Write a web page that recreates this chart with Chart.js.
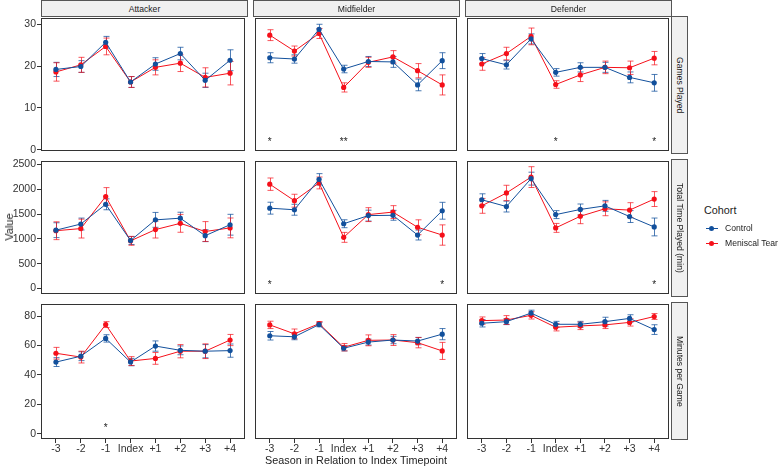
<!DOCTYPE html>
<html>
<head>
<meta charset="utf-8">
<script src="https://cdn.jsdelivr.net/npm/chart.js@4.4.0/dist/chart.umd.min.js"></script>
<style>
body { margin: 0; background: #fff; font-family: "Liberation Sans", Arial, sans-serif; }
#wrap { position: relative; width: 780px; height: 467px; overflow: hidden; }
#wrap canvas { position: absolute; }
.strip { position: absolute; background: #f0f0f0; border: 1px solid #555; box-sizing: border-box;
  font-size: 8.6px; color: #1a1a1a; display: flex; align-items: center; justify-content: center; }
.vstrip span { writing-mode: vertical-rl; }
.lbl { position: absolute; color: #222; white-space: nowrap; }
.key { position: absolute; width: 12px; height: 1px; }
.key i { position: absolute; left: 3px; top: -2px; width: 5px; height: 5px; border-radius: 50%; }
</style>
</head>
<body>
<div id="wrap"></div>
<script>
// ---- data ----
const seasons = ['-3', '-2', '-1', 'Index', '+1', '+2', '+3', '+4'];
const positions = ['Attacker', 'Midfielder', 'Defender'];
const measures = ['Games Played', 'Total Time Played (min)', 'Minutes per Game'];
const cohorts = ['Control', 'Meniscal Tear'];

// Games played
const attGpCtl = [19.2, 19.9, 25.7, 16.2, 20.5, 23.0, 16.6, 21.4];
const attGpCtlSe = [1.7, 1.4, 1.4, 1.3, 1.5, 1.5, 1.7, 2.5];
const attGpMt = [18.6, 20.3, 24.7, 16.2, 19.7, 20.7, 17.3, 18.3];
const attGpMtSe = [2.2, 1.8, 2.0, 1.3, 1.8, 2.0, 2.3, 2.8];
const midGpCtl = [22.0, 21.7, 28.8, 19.3, 21.1, 21.0, 15.5, 21.3];
const midGpCtlSe = [1.2, 1.0, 1.2, 0.9, 1.2, 1.3, 1.4, 1.9];
const midGpMt = [27.4, 23.6, 27.8, 14.9, 20.9, 22.2, 18.9, 15.5];
const midGpMtSe = [1.3, 1.2, 1.2, 1.1, 1.2, 1.5, 1.7, 2.4];
const defGpCtl = [21.8, 20.3, 26.5, 18.5, 19.7, 19.7, 17.3, 16.0];
const defGpCtlSe = [1.2, 1.0, 1.2, 0.9, 1.1, 1.2, 1.3, 2.0];
const defGpMt = [20.5, 23.0, 27.1, 15.6, 17.9, 19.7, 19.6, 21.9];
const defGpMtSe = [1.5, 1.5, 2.0, 0.9, 1.6, 1.5, 1.6, 1.6];

// Total time played (min)
const attTtCtl = [1176, 1300, 1698, 967, 1384, 1418, 1065, 1286];
const attTtCtlSe = [150, 120, 110, 80, 150, 120, 120, 210];
const attTtMt = [1165, 1208, 1855, 961, 1188, 1314, 1149, 1222];
const attTtMtSe = [180, 190, 180, 90, 170, 180, 200, 200];
const midTtCtl = [1620, 1588, 2202, 1306, 1470, 1476, 1078, 1568];
const midTtCtlSe = [120, 110, 115, 80, 110, 100, 100, 170];
const midTtMt = [2104, 1771, 2129, 1031, 1490, 1541, 1235, 1078];
const midTtMtSe = [125, 130, 120, 100, 140, 130, 150, 205];
const defTtCtl = [1790, 1653, 2216, 1490, 1594, 1667, 1451, 1241];
const defTtCtlSe = [120, 110, 130, 80, 110, 110, 120, 180];
const defTtMt = [1667, 1927, 2247, 1222, 1457, 1608, 1581, 1804];
const defTtMtSe = [150, 155, 210, 90, 150, 140, 150, 150];

// Minutes per game
const attMpgCtl = [48.7, 52.7, 64.8, 48.7, 59.6, 56.7, 56.1, 56.5];
const attMpgCtlSe = [3.0, 3.0, 2.5, 2.5, 3.5, 3.0, 4.5, 4.5];
const attMpgMt = [54.7, 52.1, 74.2, 49.4, 51.2, 56.1, 56.1, 63.7];
const attMpgMtSe = [4.0, 4.0, 2.0, 3.0, 4.0, 4.5, 5.0, 3.8];
const midMpgCtl = [66.6, 65.9, 74.2, 58.1, 62.3, 63.7, 63.0, 67.7];
const midMpgCtlSe = [2.9, 2.0, 1.5, 1.8, 2.0, 2.5, 2.5, 3.8];
const midMpgMt = [74.0, 67.9, 74.8, 58.8, 63.5, 63.7, 61.9, 56.3];
const midMpgMtSe = [2.5, 3.3, 1.5, 2.5, 3.7, 3.7, 3.5, 5.8];
const defMpgCtl = [75.1, 76.2, 82.0, 74.4, 74.4, 76.2, 78.4, 70.8];
const defMpgCtlSe = [2.5, 2.0, 2.0, 2.0, 2.0, 3.0, 2.5, 3.3];
const defMpgMt = [76.9, 77.3, 80.5, 72.4, 73.3, 74.0, 75.7, 79.7];
const defMpgMtSe = [2.5, 3.0, 2.5, 2.5, 2.5, 2.5, 2.5, 2.0];

// y ticks per row, axis limits per row
const yTicks = [[0, 10, 20, 30], [0, 500, 1000, 1500, 2000, 2500], [0, 20, 40, 60, 80]];
const yMin = [-0.3, -112, -3.6];
const yMax = [31.5, 2572, 88.2];

// significance markers: [row, col, season index, label]
const stars = [
  [0, 1, 0, '*'], [0, 1, 3, '**'], [0, 2, 3, '*'], [0, 2, 7, '*'],
  [1, 1, 0, '*'], [1, 1, 7, '*'], [1, 2, 7, '*'],
  [2, 0, 2, '*']
];
const starY = [1.8, 65, 3.4];

// grid of series [row][col] = [ctl, ctlSe, mt, mtSe]
const grid = [
  [[attGpCtl, attGpCtlSe, attGpMt, attGpMtSe], [midGpCtl, midGpCtlSe, midGpMt, midGpMtSe], [defGpCtl, defGpCtlSe, defGpMt, defGpMtSe]],
  [[attTtCtl, attTtCtlSe, attTtMt, attTtMtSe], [midTtCtl, midTtCtlSe, midTtMt, midTtMtSe], [defTtCtl, defTtCtlSe, defTtMt, defTtMtSe]],
  [[attMpgCtl, attMpgCtlSe, attMpgMt, attMpgMtSe], [midMpgCtl, midMpgCtlSe, midMpgMt, midMpgMtSe], [defMpgCtl, defMpgCtlSe, defMpgMt, defMpgMtSe]]
];

// ---- layout ----
const panelX = [41, 253, 465], panelW = 206;
const panelY = [16, 159, 302], panelH = 137;
const blue = '#12509c', red = '#f5101a';
const blueBar = 'rgba(18,80,156,0.75)', redBar = 'rgba(245,16,26,0.7)';
const wrap = document.getElementById('wrap');

Chart.defaults.font.family = '"Liberation Sans", Arial, sans-serif';
Chart.defaults.animation = false;

const errorBars = {
  id: 'errorBars',
  beforeDatasetsDraw(chart) {
    const {ctx, scales: {x, y}} = chart;
    chart.data.datasets.forEach(ds => {
      ctx.save();
      ctx.strokeStyle = ds.barColor;
      ctx.lineWidth = 1;
      ds.data.forEach((p, i) => {
        const px = Math.round(x.getPixelForValue(p.x)) + 0.5;
        const lo = y.getPixelForValue(p.y - ds.errors[i]);
        const hi = y.getPixelForValue(p.y + ds.errors[i]);
        ctx.beginPath();
        ctx.moveTo(px, lo); ctx.lineTo(px, hi);
        ctx.moveTo(px - 3, lo); ctx.lineTo(px + 3, lo);
        ctx.moveTo(px - 3, hi); ctx.lineTo(px + 3, hi);
        ctx.stroke();
      });
      ctx.restore();
    });
  }
};

const panelFrame = {
  id: 'panelFrame',
  afterDraw(chart) {
    const {ctx, chartArea: a} = chart;
    ctx.save();
    ctx.strokeStyle = '#333';
    ctx.lineWidth = 1;
    ctx.strokeRect(a.left + 0.5, a.top + 0.5, a.right - a.left - 1, a.bottom - a.top - 1);
    ctx.restore();
  }
};

function starPlugin(r, c) {
  return {
    id: 'stars' + r + c,
    afterDatasetsDraw(chart) {
      const {ctx, scales: {x, y}} = chart;
      ctx.save();
      ctx.fillStyle = '#222';
      ctx.font = '10px "Liberation Sans", Arial, sans-serif';
      ctx.textAlign = 'center';
      ctx.textBaseline = 'middle';
      stars.filter(s => s[0] === r && s[1] === c).forEach(s => {
        ctx.fillText(s[3], x.getPixelForValue(s[2]), y.getPixelForValue(starY[r]));
      });
      ctx.restore();
    }
  };
}

function toPoints(vals) {
  return vals.map((v, i) => ({x: i, y: v}));
}

function makePanel(r, c) {
  const left = c === 0 ? 0 : panelX[c] - 2;
  const top = panelY[r] - 2;
  const right = panelX[c] + panelW + 2;
  const bottom = r === 2 ? panelY[r] + panelH + 16 : panelY[r] + panelH + 2;
  const canvas = document.createElement('canvas');
  canvas.width = right - left;
  canvas.height = bottom - top;
  canvas.style.left = left + 'px';
  canvas.style.top = top + 'px';
  canvas.style.width = (right - left) + 'px';
  canvas.style.height = (bottom - top) + 'px';
  wrap.appendChild(canvas);

  const [ctl, ctlSe, mt, mtSe] = grid[r][c];
  const noPad = s => { s.paddingTop = 0; s.paddingBottom = 0; s.paddingLeft = 0; s.paddingRight = 0; };

  new Chart(canvas, {
    type: 'line',
    data: {
      datasets: [
        {label: cohorts[0], data: toPoints(ctl), errors: ctlSe, borderColor: blue, backgroundColor: blue,
         barColor: blueBar, borderWidth: 1, pointRadius: 2.6, pointBorderWidth: 0},
        {label: cohorts[1], data: toPoints(mt), errors: mtSe, borderColor: red, backgroundColor: red,
         barColor: redBar, borderWidth: 1, pointRadius: 2.6, pointBorderWidth: 0}
      ]
    },
    options: {
      responsive: false,
      devicePixelRatio: 1,
      layout: {padding: {left: c === 0 ? 0 : 2, right: 2, top: 2, bottom: r === 2 ? 0 : 2}},
      plugins: {legend: {display: false}, tooltip: {enabled: false}},
      scales: {
        x: {
          type: 'linear', min: -0.6, max: 7.6, display: r === 2,
          afterBuildTicks: s => { s.ticks = seasons.map((_, i) => ({value: i})); },
          afterFit: s => { if (r === 2) { s.height = 16; noPad(s); } },
          grid: {drawOnChartArea: false, drawTicks: true, tickLength: 4, color: '#333'},
          border: {display: false},
          ticks: {padding: 0, color: '#333', font: {size: 10.5}, maxRotation: 0, autoSkip: false,
                  callback: v => seasons[v]}
        },
        y: {
          type: 'linear', min: yMin[r], max: yMax[r], display: c === 0,
          afterBuildTicks: s => { s.ticks = yTicks[r].map(v => ({value: v})); },
          afterFit: s => { if (c === 0) { s.width = 41; noPad(s); } },
          grid: {drawOnChartArea: false, drawTicks: true, tickLength: 4, color: '#333'},
          border: {display: false},
          ticks: {padding: 1, color: '#333', font: {size: 10.5}, callback: v => String(v)}
        }
      }
    },
    plugins: [errorBars, panelFrame, starPlugin(r, c)]
  });
}

for (let r = 0; r < 3; r++) {
  for (let c = 0; c < 3; c++) makePanel(r, c);
}

// facet strips
positions.forEach((p, c) => {
  const d = document.createElement('div');
  d.className = 'strip';
  d.style.cssText = `left:${panelX[c]}px;top:0px;width:${panelW + 1}px;height:17px;`;
  d.textContent = p;
  wrap.appendChild(d);
});
measures.forEach((m, r) => {
  const d = document.createElement('div');
  d.className = 'strip vstrip';
  d.style.cssText = `left:${panelX[2] + panelW}px;top:${panelY[r]}px;width:17px;height:${panelH + 1}px;`;
  d.innerHTML = `<span>${m}</span>`;
  wrap.appendChild(d);
});

// axis titles
const yt = document.createElement('div');
yt.className = 'lbl';
yt.style.cssText = 'left:9px;top:227px;font-size:11px;transform:translate(-50%,-50%) rotate(-90deg);';
yt.textContent = 'Value';
wrap.appendChild(yt);
const xt = document.createElement('div');
xt.className = 'lbl';
xt.style.cssText = 'left:356px;top:460px;font-size:10.8px;transform:translate(-50%,-50%);';
xt.textContent = 'Season in Relation to Index Timepoint';
wrap.appendChild(xt);

// legend
const lt = document.createElement('div');
lt.className = 'lbl';
lt.style.cssText = 'left:704px;top:210px;font-size:10.8px;transform:translateY(-50%);';
lt.textContent = 'Cohort';
wrap.appendChild(lt);
[[cohorts[0], blue, 228], [cohorts[1], red, 243]].forEach(([name, col, yy]) => {
  const k = document.createElement('div');
  k.className = 'key';
  k.style.cssText = `left:706px;top:${yy}px;background:${col};`;
  k.innerHTML = `<i style="background:${col}"></i>`;
  wrap.appendChild(k);
  const t = document.createElement('div');
  t.className = 'lbl';
  t.style.cssText = `left:725px;top:${yy}px;font-size:8.6px;transform:translateY(-50%);`;
  t.textContent = name;
  wrap.appendChild(t);
});
</script>
</body>
</html>
